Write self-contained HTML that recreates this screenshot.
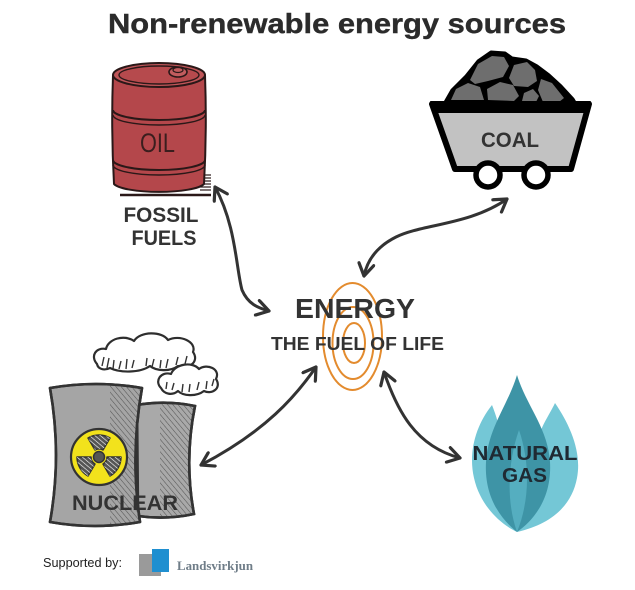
<!DOCTYPE html>
<html><head><meta charset="utf-8"><style>
html,body{margin:0;padding:0;background:#fff;}
svg{display:block;}
text{font-family:"Liberation Sans",sans-serif;}
</style></head><body>
<svg width="635" height="590" viewBox="0 0 635 590" xmlns="http://www.w3.org/2000/svg">
<defs>
<pattern id="hatch" patternUnits="userSpaceOnUse" width="4" height="4" patternTransform="rotate(-40)">
<line x1="0" y1="0" x2="0" y2="4" stroke="#555" stroke-width="1.1"/>
</pattern>
<pattern id="hatchW" patternUnits="userSpaceOnUse" width="3.5" height="3.5" patternTransform="rotate(-50)">
<line x1="0" y1="0" x2="0" y2="3.5" stroke="#fff" stroke-width="1.2"/>
</pattern>
<clipPath id="ltClip"><path d="M50,388 Q96,380 142,388 Q130,455 140,522 Q95,530 50,522 Q62,455 50,388 Z"/></clipPath>
<clipPath id="rtClip"><path d="M137,405 Q166,400 195,406 Q184,460 194,514 Q166,520 138,516 Z"/></clipPath>
<marker id="ah" markerUnits="userSpaceOnUse" viewBox="-14 -9 16 18" refX="0" refY="0" markerWidth="16" markerHeight="18" orient="auto-start-reverse">
<path d="M-12,-7.5 L0,0 L-12,7.5" fill="none" stroke="#333" stroke-width="3.2" stroke-linecap="round" stroke-linejoin="round"/>
</marker>
</defs>

<!-- Title -->
<text x="337" y="33" text-anchor="middle" font-size="28" font-weight="bold" fill="#2b2b2b" stroke="#2b2b2b" stroke-width="0.4" textLength="458" lengthAdjust="spacingAndGlyphs">Non-renewable energy sources</text>

<!-- Oil barrel -->
<g stroke="#2a1818" stroke-width="2" stroke-linejoin="round">
<line x1="120" y1="195" x2="211" y2="195" stroke-width="2.5"/>
<g stroke-width="1.2">
<line x1="200" y1="175" x2="211" y2="175"/><line x1="200" y1="178" x2="211" y2="178"/>
<line x1="200" y1="181" x2="211" y2="181"/><line x1="200" y1="184" x2="211" y2="184"/>
<line x1="200" y1="187" x2="211" y2="187"/><line x1="200" y1="190" x2="211" y2="190"/>
</g>
<path d="M113,75 Q111,130 114,184 A46,10 0 0 0 204,184 Q207,130 205,75 Z" fill="#b4474b"/>
<path d="M113,110 A46,10 0 0 0 205,110" fill="none"/>
<path d="M113,115 A46,10 0 0 0 205,115" fill="none" stroke-width="1.4"/>
<path d="M113,160 A46,10 0 0 0 205,160" fill="none"/>
<path d="M113,165 A46,10 0 0 0 205,165" fill="none" stroke-width="1.4"/>
<ellipse cx="159" cy="75" rx="46" ry="12" fill="#bf5558"/>
<ellipse cx="159" cy="75" rx="40" ry="9" fill="#b64a4d" stroke-width="1.4"/>
<ellipse cx="178" cy="72" rx="9" ry="5" fill="#c25c5e" stroke-width="1.6"/>
<ellipse cx="178" cy="70" rx="5" ry="2.5" fill="none" stroke-width="1.2"/>
</g>
<text x="157.5" y="152" text-anchor="middle" font-size="27" fill="#3a1e1e" textLength="35" lengthAdjust="spacingAndGlyphs">OIL</text>
<text x="161" y="222" text-anchor="middle" font-size="21" font-weight="bold" fill="#333" textLength="75" lengthAdjust="spacingAndGlyphs">FOSSIL</text>
<text x="164" y="245" text-anchor="middle" font-size="21" font-weight="bold" fill="#333" textLength="65" lengthAdjust="spacingAndGlyphs">FUELS</text>

<!-- Coal cart -->
<g stroke="#000" stroke-linejoin="round">
<path d="M444,104 L452,90 L466,76 L478,61 L491,52 L505,53 L512,58 L526,60 L537,66 L549,75 L561,86 L573,99 L576,104 Z" fill="#000" stroke-width="3"/>
<g fill="#6e6e6e" stroke="none">
<path d="M470,80 L478,64 L492,56 L504,57 L509,66 L503,77 L488,81 L475,84 Z"/>
<path d="M451,100 L456,89 L468,83 L480,87 L484,100 Z"/>
<path d="M488,100 L487,89 L500,82 L513,85 L519,96 L514,101 Z"/>
<path d="M509,78 L514,65 L527,62 L535,70 L537,81 L528,87 L514,86 Z"/>
<path d="M541,79 L552,83 L564,98 L559,102 L543,102 L538,90 Z"/>
<path d="M522,101 L524,93 L533,89 L539,96 L536,102 Z"/>
</g>
<path d="M432,104 L589,104 L571,169 L455,169 Z" fill="#c2c2c2" stroke-width="6"/>
<path d="M431,102 L590,102 L588,112 L433,112 Z" fill="#000" stroke-width="2"/>
<circle cx="488" cy="175" r="12" fill="#fff" stroke-width="5.5"/>
<circle cx="536" cy="175" r="12" fill="#fff" stroke-width="5.5"/>
</g>
<text x="510" y="147" text-anchor="middle" font-size="21" font-weight="bold" fill="#333" textLength="58" lengthAdjust="spacingAndGlyphs">COAL</text>

<!-- Clouds -->
<g stroke="#2e2e2e" stroke-width="2.2" fill="#fff" stroke-linejoin="round">
<path d="M97,364 C90,356 96,347 106,349 C108,339 124,334 134,341 C140,331 162,331 168,340 C180,334 197,342 193,352 C200,362 188,370 178,366 C170,372 156,371 150,366 C140,373 120,373 110,368 C104,371 98,369 97,364 Z"/>
<path d="M161,388 C154,381 161,371 171,374 C175,364 192,361 199,369 C207,363 221,369 216,379 C222,388 212,395 204,391 C196,397 183,396 178,391 C172,396 164,394 161,388 Z"/>
</g>
<g stroke="#333" stroke-width="1.4">
<line x1="102" y1="366" x2="104" y2="357"/><line x1="107" y1="368" x2="109" y2="358"/><line x1="113" y1="369" x2="114" y2="360"/>
<line x1="119" y1="369" x2="121" y2="361"/><line x1="126" y1="369" x2="127" y2="359"/><line x1="132" y1="368" x2="134" y2="360"/>
<line x1="146" y1="366" x2="147" y2="358"/><line x1="152" y1="367" x2="154" y2="359"/><line x1="160" y1="368" x2="161" y2="360"/>
<line x1="166" y1="368" x2="168" y2="359"/><line x1="176" y1="365" x2="178" y2="357"/><line x1="185" y1="364" x2="187" y2="356"/>
<line x1="166" y1="389" x2="167" y2="382"/><line x1="172" y1="390" x2="174" y2="383"/><line x1="182" y1="392" x2="183" y2="384"/>
<line x1="189" y1="392" x2="190" y2="384"/><line x1="197" y1="390" x2="199" y2="382"/><line x1="206" y1="389" x2="207" y2="381"/>
<line x1="212" y1="386" x2="214" y2="379"/>
</g>

<!-- Nuclear towers -->
<g stroke="#333" stroke-width="2.6" stroke-linejoin="round">
<path d="M137,405 Q166,400 195,406 Q184,460 194,514 Q166,520 138,516 Z" fill="#a9a9a9"/>
</g>
<rect x="160" y="400" width="40" height="125" fill="url(#hatch)" clip-path="url(#rtClip)"/>
<path d="M137,405 Q166,400 195,406 Q184,460 194,514 Q166,520 138,516" fill="none" stroke="#333" stroke-width="2.6"/>
<path d="M50,388 Q96,380 142,388 Q130,455 140,522 Q95,530 50,522 Q62,455 50,388 Z" fill="#a5a5a5" stroke="#333" stroke-width="2.6" stroke-linejoin="round"/>
<rect x="110" y="380" width="40" height="150" fill="url(#hatch)" clip-path="url(#ltClip)"/>
<path d="M50,388 Q96,380 142,388 Q130,455 140,522 Q95,530 50,522 Q62,455 50,388 Z" fill="none" stroke="#333" stroke-width="2.6" stroke-linejoin="round"/>
<!-- Radiation -->
<circle cx="99" cy="457" r="28" fill="#f2e21c" stroke="#333" stroke-width="2.2"/>
<g fill="#555" stroke="#333" stroke-width="1.5" stroke-linejoin="round">
<path d="M88,438 A22,22 0 0 1 110,438 L103,450 A8,8 0 0 0 95,450 Z"/>
<path d="M121,457 A22,22 0 0 1 110,476 L103,464 A8,8 0 0 0 107,457 Z"/>
<path d="M88,476 A22,22 0 0 1 77,457 L91,457 A8,8 0 0 0 95,464 Z"/>
<circle cx="99" cy="457" r="5.5"/>
</g>
<g fill="url(#hatchW)">
<path d="M88,438 A22,22 0 0 1 110,438 L103,450 A8,8 0 0 0 95,450 Z"/>
<path d="M121,457 A22,22 0 0 1 110,476 L103,464 A8,8 0 0 0 107,457 Z"/>
<path d="M88,476 A22,22 0 0 1 77,457 L91,457 A8,8 0 0 0 95,464 Z"/>
</g>
<text x="125" y="510" text-anchor="middle" font-size="21" font-weight="bold" fill="#333" textLength="106" lengthAdjust="spacingAndGlyphs">NUCLEAR</text>

<!-- Gas flame -->
<path d="M492,405 C476,425 468,452 474,478 C480,505 500,524 517,532 C504,508 496,478 500,450 C502,432 497,418 492,405 Z" fill="#74c7d6"/>
<path d="M555,403 C570,425 582,452 577,478 C572,505 552,524 517,532 C532,508 542,478 538,450 C536,432 548,418 555,403 Z" fill="#74c7d6"/>
<path d="M517,375 C508,405 488,428 486,462 C484,498 502,520 517,532 C534,520 552,498 550,462 C548,428 526,405 517,375 Z" fill="#3e94a6"/>
<path d="M519,430 C509,458 505,498 517,532 C530,500 530,462 519,430 Z" fill="#55aec0"/>
<text x="525" y="460" text-anchor="middle" font-size="20" font-weight="bold" fill="#1f2a33" textLength="105" lengthAdjust="spacingAndGlyphs">NATURAL</text>
<text x="524.5" y="482" text-anchor="middle" font-size="20" font-weight="bold" fill="#1f2a33" textLength="45" lengthAdjust="spacingAndGlyphs">GAS</text>

<!-- Spiral -->
<g fill="none" stroke="#e38b2e" stroke-width="2">
<ellipse cx="352.5" cy="336.5" rx="29.5" ry="53.5"/>
<ellipse cx="353" cy="343" rx="20.5" ry="36"/>
<ellipse cx="354" cy="343" rx="11" ry="20"/>
</g>
<text x="355" y="318" text-anchor="middle" font-size="28" font-weight="bold" fill="#333" textLength="120" lengthAdjust="spacingAndGlyphs">ENERGY</text>
<text x="357.5" y="350" text-anchor="middle" font-size="18" font-weight="bold" fill="#333" textLength="173" lengthAdjust="spacingAndGlyphs">THE FUEL OF LIFE</text>

<!-- Arrows -->
<g fill="none" stroke="#333" stroke-width="3" stroke-linecap="round" marker-start="url(#ah)" marker-end="url(#ah)">
<path d="M215,187 C236,225 236,268 242,290 C248,304 258,308 269,311"/>
<path d="M507,199 C470,225 422,224 396,237 C376,247 367,261 364,276"/>
<path d="M316,367 C296,396 266,431 201,465"/>
<path d="M384,372 C397,410 415,446 460,458"/>
</g>

<!-- Footer -->
<text x="43" y="567" font-size="12.5" fill="#222" textLength="79" lengthAdjust="spacingAndGlyphs">Supported by:</text>
<rect x="139" y="554" width="15" height="21" fill="#9a9a9a"/>
<rect x="152" y="549" width="17" height="23" fill="#1f8fd0"/>
<rect x="139" y="572" width="22" height="4" fill="#9a9a9a"/>
<text x="177" y="570" font-size="13" font-weight="bold" fill="#6f7d88" style="font-family:'Liberation Serif',serif" textLength="76" lengthAdjust="spacingAndGlyphs">Landsvirkjun</text>
</svg>
</body></html>
